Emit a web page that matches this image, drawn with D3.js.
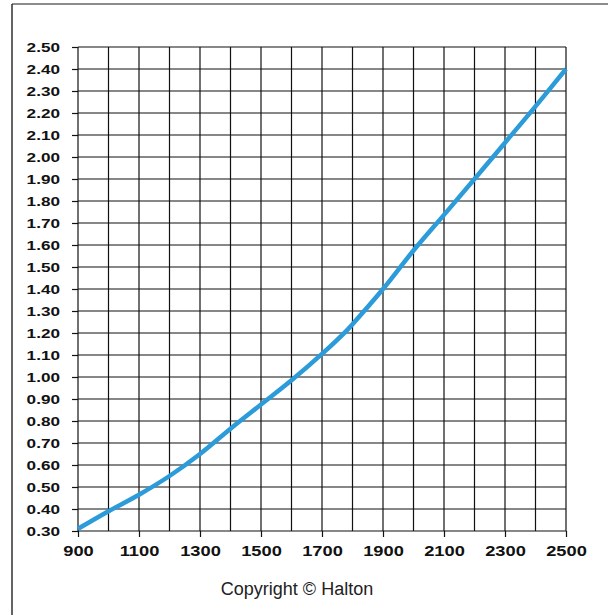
<!DOCTYPE html>
<html>
<head>
<meta charset="utf-8">
<script src="https://cdn.jsdelivr.net/npm/d3@7"></script>
<style>
  html, body { margin: 0; padding: 0; background: #fff; }
  svg { display: block; }
</style>
</head>
<body>
<svg id="chart" width="608" height="615"></svg>
<script>
// Data
const xValues = [900, 1000, 1100, 1200, 1300, 1400, 1500, 1600, 1700, 1780, 1800, 1900, 2000, 2100, 2200, 2300, 2400, 2500];
const yValues = [0.31, 0.39, 0.465, 0.55, 0.65, 0.765, 0.875, 0.985, 1.105, 1.21, 1.24, 1.40, 1.575, 1.737, 1.90, 2.065, 2.23, 2.40];
const xTickLabels = [900, 1100, 1300, 1500, 1700, 1900, 2100, 2300, 2500];
const xGridValues = d3.range(900, 2501, 100);
const yTickValues = d3.range(30, 251, 10).map(v => v / 100);
const copyrightText = "Copyright © Halton";

(function () {
const svg = d3.select("#chart");
const pLeft = 78, pRight = 566, pTop = 47, pBottom = 531;

const x = d3.scaleLinear().domain([900, 2500]).range([pLeft, pRight]);
const y = d3.scaleLinear().domain([0.30, 2.50]).range([pBottom, pTop]);

// outer frame
svg.append("line").attr("x1", 12).attr("y1", 4).attr("x2", 608).attr("y2", 4)
  .attr("stroke", "#666").attr("stroke-width", 1.5);
svg.append("line").attr("x1", 12).attr("y1", 4).attr("x2", 12).attr("y2", 615)
  .attr("stroke", "#111").attr("stroke-width", 1.3);

// grid
const grid = svg.append("g").attr("stroke", "#111").attr("stroke-width", 1.2);
grid.selectAll("line.v").data(xGridValues).enter().append("line").attr("class", "v")
  .attr("x1", d => x(d)).attr("x2", d => x(d)).attr("y1", pTop).attr("y2", pBottom);
grid.selectAll("line.h").data(yTickValues).enter().append("line").attr("class", "h")
  .attr("y1", d => y(d)).attr("y2", d => y(d)).attr("x1", pLeft).attr("x2", pRight);

// axes
const yAxis = d3.axisLeft(y).tickValues(yTickValues).tickFormat(d3.format(".2f")).tickSize(6).tickPadding(12);
const xAxis = d3.axisBottom(x).tickValues(xTickLabels).tickFormat(d3.format("d")).tickSize(6).tickPadding(8);

const gy = svg.append("g").attr("transform", `translate(${pLeft},0)`).call(yAxis);
const gx = svg.append("g").attr("transform", `translate(0,${pBottom})`).call(xAxis);
[gy, gx].forEach(g => {
  g.attr("font-family", null).attr("font-size", null);
  g.select(".domain").remove();
  g.selectAll(".tick line").attr("stroke", "#111").attr("stroke-width", 1.2);
  g.selectAll(".tick text")
    .attr("fill", "#111")
    .style("font-family", "'Liberation Sans', Arial, sans-serif")
    .style("font-weight", "bold");
});
gy.selectAll(".tick text")
  .style("font-size", "13px")
  .attr("x", 0)
  .attr("transform", "translate(-18,0) scale(1.32,1)");
gx.selectAll(".tick text")
  .style("font-size", "15px")
  .attr("dy", "0.71em")
  .attr("transform", "scale(1.22,1)");

// curve
const pts = xValues.map((v, i) => [v, yValues[i]]);
svg.append("path")
  .datum(pts)
  .attr("fill", "none")
  .attr("stroke", "#2b9bd9")
  .attr("stroke-width", 4.5)
  .attr("d", d3.line().x(d => x(d[0])).y(d => y(d[1])).curve(d3.curveCatmullRom.alpha(0.5)));

// copyright
svg.append("text")
  .attr("x", 297).attr("y", 595)
  .attr("text-anchor", "middle")
  .attr("fill", "#222")
  .style("font-family", "'Liberation Sans', Arial, sans-serif")
  .style("font-size", "18px")
  .text(copyrightText);
})();
</script>
</body>
</html>
